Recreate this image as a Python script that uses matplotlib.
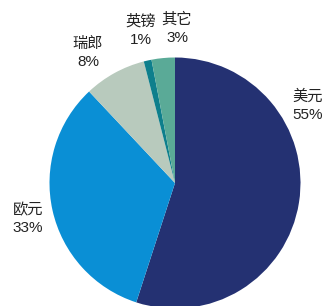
import matplotlib
matplotlib.use("Agg")
import matplotlib.pyplot as plt

plt.rcParams['font.family'] = ['Liberation Sans', 'Noto Sans CJK SC', 'DejaVu Sans']

# Currency share data
labels = ["美元", "欧元", "瑞郎", "英镑", "其它"]
shares = [55, 33, 8, 1, 3]
colors = ["#243172", "#0a8fd5", "#b8cabd", "#0e7f8c", "#5aaa97"]

# label centres in pixels (x, y from top)
label_pos = [(308, 106), (28, 219), (88, 53), (141, 31), (177, 29)]

W, H = 326, 306
fig = plt.figure(figsize=(W / 100, H / 100), dpi=100)

cx, cy, r = 175, 183, 125.5
ax = fig.add_axes([(cx - r) / W, (H - cy - r) / H, 2 * r / W, 2 * r / H])
ax.pie(shares, colors=colors, startangle=90, counterclock=False, radius=1,
       wedgeprops=dict(linewidth=0))
ax.set_xlim(-1, 1)
ax.set_ylim(-1, 1)
ax.set_aspect('auto')
ax.axis('off')

for lab, val, (x, y) in zip(labels, shares, label_pos):
    fig.text(x / W, 1 - y / H, f"{lab}\n{val}%", ha='center', va='center',
             fontsize=11, color="#222222", linespacing=1.4)

fig.savefig("out.png", dpi=100)
